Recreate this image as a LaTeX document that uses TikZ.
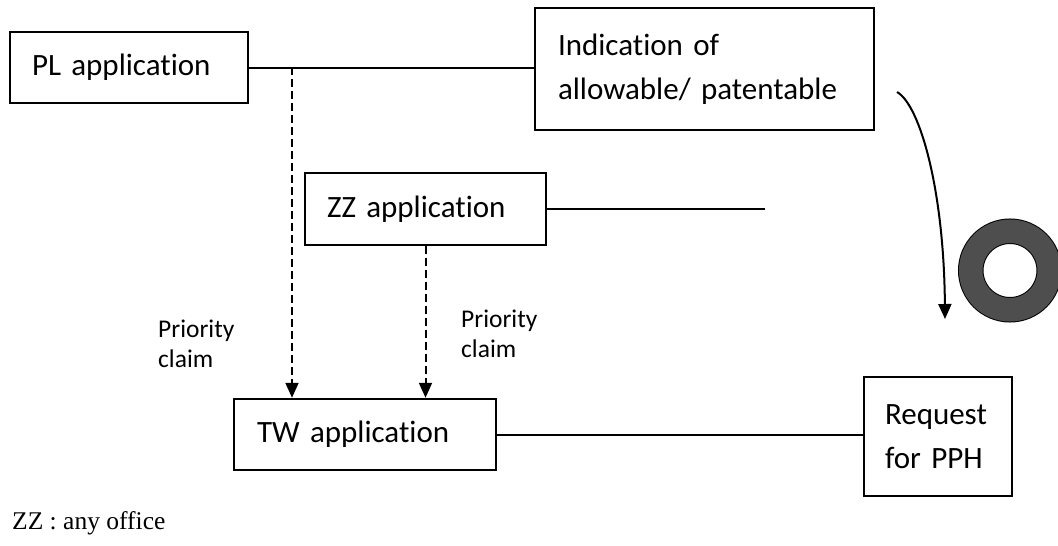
\documentclass[tikz,border=0pt]{standalone}
\usepackage{fontspec}
\setmainfont{Carlito}[Ligatures=NoCommon]
\newfontfamily\notefont{Liberation Serif}
\usetikzlibrary{arrows.meta,calc}
\definecolor{ringgray}{RGB}{78,78,78}
\begin{document}
\begin{tikzpicture}[x=1pt,y=-1pt,
  box/.style={draw, line width=2.5pt, rectangle, inner ysep=0pt,
    font=\fontsize{31}{44}\selectfont, align=left},
  conn/.style={line width=2pt},
  dashconn/.style={line width=2pt, dash pattern=on 8pt off 4pt,
    -{Triangle[length=15pt,width=13pt]}},
  curvarrow/.style={line width=2pt, -{Triangle[length=15pt,width=13pt]}},
  lbl/.style={font=\fontsize{25.5}{30}\selectfont, align=left, inner sep=0pt, anchor=north west},
  note/.style={font=\notefont\fontsize{25.5}{28}\selectfont, inner sep=0pt, anchor=base west}
]
\useasboundingbox (0,0) rectangle (1058,546);

% boxes
\node[box, minimum width=238pt, minimum height=71pt, inner xsep=22pt, text width=194pt] (PL) at (129,67.5) {PL application};
\node[box, minimum width=339pt, minimum height=122pt, inner xsep=23pt, text width=293pt] (IND) at (704.5,69) {Indication of\\allowable/ patentable};
\node[box, minimum width=241pt, minimum height=72pt, inner xsep=22pt, text width=197pt] (ZZ) at (425.5,209) {ZZ application};
\node[box, minimum width=262pt, minimum height=71pt, inner xsep=23pt, text width=216pt] (TW) at (365,434.5) {TW application};
\node[box, minimum width=148pt, minimum height=119pt, inner xsep=21pt, text width=106pt] (REQ) at (938,436.5) {Request\\for PPH};

% helper coordinates
\coordinate (j1) at (292,67);
\coordinate (zzend) at (765,209);
\coordinate (cs) at (897,92);
\coordinate (ct) at (945,319);

% solid connectors
\draw[conn] (PL.east) -- (PL.east -| IND.west);
\draw[conn] (ZZ.east) -- (zzend);
\draw[conn] (TW.east) -- (TW.east -| REQ.west);

% priority claims
\draw[dashconn] (j1) -- (j1 |- TW.north);
\draw[dashconn] (ZZ.south) -- (ZZ.south |- TW.north);
\node[lbl] (lblL) at (158,320) {Priority\\claim};
\node[lbl] (lblR) at (461,310) {Priority\\claim};

% curved arrow
\draw[curvarrow] (cs) .. controls (920,105) and (944,190) .. (ct);

% ring
\node[circle, draw=black, line width=1pt, double=ringgray, double distance=23.5pt,
      minimum size=78.5pt, inner sep=0pt] (ring) at (1010,270.5) {};

% note
\node[note] (zznote) at (12,529) {ZZ : any office};
\end{tikzpicture}
\end{document}
